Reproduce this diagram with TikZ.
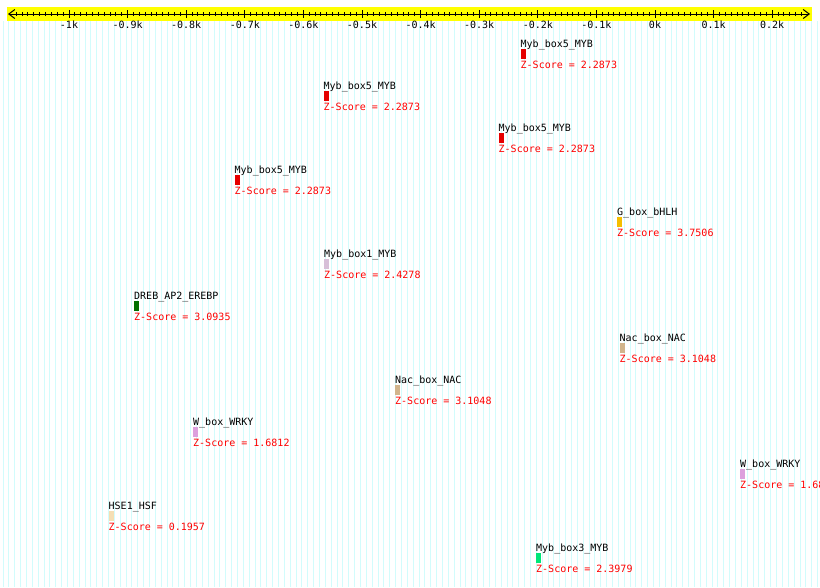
\documentclass[tikz,border=0pt]{standalone}
\usepackage{fontspec}
\setmonofont{DejaVu Sans Mono}
\usetikzlibrary{arrows.meta}
\definecolor{zred}{RGB}{255,0,0}
\definecolor{mybred}{RGB}{230,0,0}
\definecolor{gboxc}{RGB}{245,190,0}
\definecolor{drebc}{RGB}{0,112,0}
\definecolor{thistlec}{RGB}{216,191,216}
\definecolor{tanc}{RGB}{210,180,140}
\definecolor{plumc}{RGB}{221,160,221}
\definecolor{wheatc}{RGB}{245,222,179}
\definecolor{myb3c}{RGB}{0,230,120}
\definecolor{gridc}{RGB}{210,252,252}
\definecolor{rulery}{RGB}{255,255,0}
\begin{document}
\begin{tikzpicture}[x=1pt,y=-1pt,
  lab/.style={anchor=base west,inner sep=0pt,font=\ttfamily\fontsize{10}{10}\selectfont,text=black},
  zs/.style={lab,text=zred},
  barbox/.style={anchor=north west,inner sep=0pt,minimum width=5pt,minimum height=10pt,draw=none},
  tl/.style={anchor=base,inner sep=0pt,font=\ttfamily\fontsize{10}{10}\selectfont,text=black}]
\useasboundingbox (0,0) rectangle (820,587);
\clip (0,0) rectangle (820,587);
\fill[white] (0,0) rectangle (820,587);
% background grid
\foreach \k in {-111,...,28}
  \draw[gridc,line width=1pt] ({653.5+\k*5.86},21) -- ++(0,566);
% ruler
\fill[rulery] (7,7) rectangle (812,21);
\coordinate (axl) at (8,14);
\coordinate (axr) at (810,14);
\draw[line width=1pt,{Straight Barb[length=6pt,width=9pt]}-{Straight Barb[length=6pt,width=9pt]}] (axl) -- (axr);
\foreach \v in {-109,...,25}
  \draw[line width=1pt] ({655+\v*5.86},12) -- ++(0,4);
\foreach \v in {-10,...,2}
  \draw[line width=1pt] ({655+\v*58.6},10) -- ++(0,8);
\foreach \v/\t in {-10/-1k,-9/-0.9k,-8/-0.8k,-7/-0.7k,-6/-0.6k,-5/-0.5k,-4/-0.4k,-3/-0.3k,-2/-0.2k,-1/-0.1k,0/0k,1/0.1k,2/0.2k}
  \node[tl] (t\v) at ({655+\v*58.6},28) {\t};
% motifs
\foreach \i/\x/\t/\c/\z in {
  0/520.5/Myb\_box5\_MYB/mybred/2.2873,
  1/323.5/Myb\_box5\_MYB/mybred/2.2873,
  2/498.5/Myb\_box5\_MYB/mybred/2.2873,
  3/234.5/Myb\_box5\_MYB/mybred/2.2873,
  4/617/G\_box\_bHLH/gboxc/3.7506,
  5/324/Myb\_box1\_MYB/thistlec/2.4278,
  6/134/DREB\_AP2\_EREBP/drebc/3.0935,
  7/619.5/Nac\_box\_NAC/tanc/3.1048,
  8/395/Nac\_box\_NAC/tanc/3.1048,
  9/193/W\_box\_WRKY/plumc/1.6812,
  10/740/W\_box\_WRKY/plumc/1.6812,
  11/108.5/HSE1\_HSF/wheatc/0.1957,
  12/536/Myb\_box3\_MYB/myb3c/2.3979}{
  \node[lab] (n\i) at (\x,{47+42*\i}) {\t};
  \node[barbox,fill=\c] (b\i) at (\x,{49+42*\i}) {};
  \node[zs] (z\i) at (\x,{68+42*\i}) {Z-Score = \z};
}
\end{tikzpicture}
\end{document}
